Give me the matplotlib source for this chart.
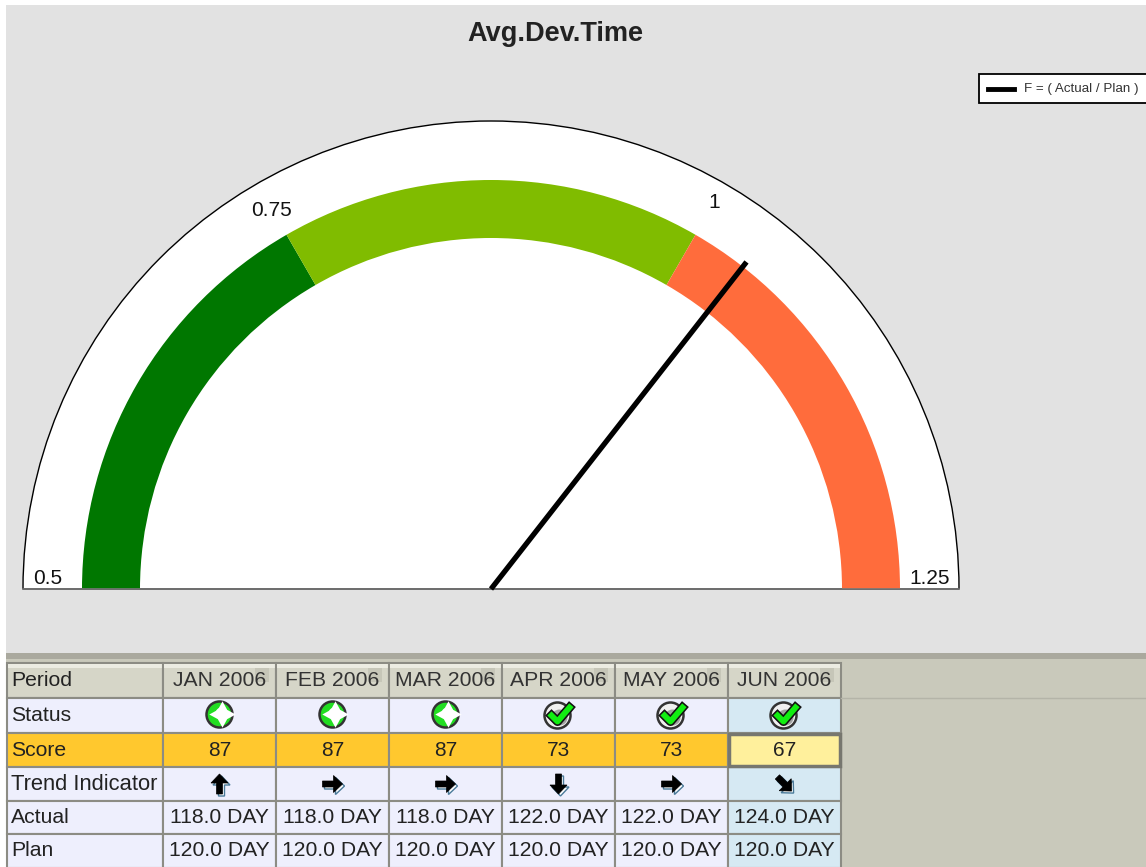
# -*- coding: utf-8 -*-
import numpy as np
import matplotlib
matplotlib.use('Agg')
import matplotlib.pyplot as plt
from matplotlib.patches import Wedge, Rectangle, Circle, FancyArrow

plt.rcParams['font.family'] = ['Liberation Sans', 'DejaVu Sans']

# gauge
title = 'Avg.Dev.Time'
bounds = [0.5, 0.75, 1.0, 1.25]
band_colors = ['#007700', '#80bc00', '#ff6c3c']
legend_text = 'F = ( Actual / Plan )'

# table
periods = ['JAN 2006', 'FEB 2006', 'MAR 2006', 'APR 2006', 'MAY 2006', 'JUN 2006']
status = ['star', 'star', 'star', 'check', 'check', 'check']
score = [87, 87, 87, 73, 73, 67]
trend = [90, 0, 0, -90, 0, -45]
actual = [118.0, 118.0, 118.0, 122.0, 122.0, 124.0]
plan = [120.0, 120.0, 120.0, 120.0, 120.0, 120.0]
row_names = ['Period', 'Status', 'Score', 'Trend Indicator', 'Actual', 'Plan']

col_x = [7, 163, 276, 389, 502, 615, 728, 841]
row_y = [663, 698, 733, 767, 801, 834, 868]
cx, cy = 491, 589
grid_c = '#8c8c84'

fig = plt.figure(figsize=(11.46, 8.67), dpi=100, facecolor='white')
ax = fig.add_axes([0, 0, 1, 1])
ax.set_xlim(0, 1146)
ax.set_ylim(867, 0)
ax.axis('off')


def angle(v):
    # 0.5 is far left, 1.25 is far right
    return 180 - (v - bounds[0]) / (bounds[-1] - bounds[0]) * 180


# backgrounds
ax.add_patch(Rectangle((6, 5), 1140, 648, fc='#e2e2e2', ec='none'))
ax.add_patch(Rectangle((6, 653), 1140, 6, fc='#aaa99e', ec='none'))
ax.add_patch(Rectangle((6, 659), 1140, 208, fc='#c9c9bb', ec='none'))
ax.plot([841, 1146], [698, 698], color='#b4b4a8', lw=1)

# gauge dial
ax.add_patch(Wedge((cx, cy), 468, -180, 0, fc='white', ec='black', lw=1))
ax.plot([cx - 468, cx + 468], [cy, cy], color='#777777', lw=1.2)
for i in range(3):
    ax.add_patch(Wedge((cx, cy), 409, -angle(bounds[i]), -angle(bounds[i + 1]),
                       width=58, fc=band_colors[i], ec='none'))

labels = ['0.5', '0.75', '1', '1.25']
lab_pos = [(48, 577), (272, 209), (714, 202), (930, 577)]
for s, p in zip(labels, lab_pos):
    ax.text(p[0], p[1] + 1, s, fontsize=15, ha='center', va='center', color='#111111')

# needle
value = actual[-1] / plan[-1]
a = np.radians(angle(value))
ax.plot([cx, cx + 415 * np.cos(a)], [cy, cy - 415 * np.sin(a)],
        color='black', lw=3.8, solid_capstyle='butt')

ax.text(555, 34, title, fontsize=19.5, fontweight='bold', ha='center', va='center', color='#222222')

# legend
ax.add_patch(Rectangle((979, 74), 170, 29, fc='white', ec='black', lw=1.3))
ax.plot([988, 1014], [89, 89], color='black', lw=3.5)
ax.text(1024, 89, legend_text, fontsize=9.6, ha='left', va='center', color='#333333')


def fill_cell(c, r, color):
    ax.add_patch(Rectangle((col_x[c], row_y[r]), col_x[c + 1] - col_x[c], row_y[r + 1] - row_y[r],
                           fc=color, ec=grid_c, lw=1.5))


def status_icon(x, y, kind):
    if kind == 'star':
        ax.add_patch(Circle((x, y), 13, fc='#22dd22', ec='#333333', lw=1.8))
        ax.plot([x + 2], [y - 1], marker=(4, 1, 0), ms=19, mfc='white', mec='none')
        ax.add_patch(Circle((x + 2, y - 1), 6, fc='white', ec='none'))
    else:
        ax.add_patch(Circle((x - 1, y + 1), 13, fc='#f0f0f0', ec='#333333', lw=1.8))
        ax.add_patch(Circle((x + 1, y + 3), 8, fc='#a0a0a0', ec='none'))
        ax.plot([x - 7, x - 1, x + 11], [y + 1, y + 7, y - 7], color='#111111', lw=6.5)
        ax.plot([x - 7, x - 1, x + 11], [y + 1, y + 7, y - 7], color='#11ee11', lw=4.2)


def trend_icon(x, y, deg):
    t = np.radians(deg)
    dx, dy = 10 * np.cos(t), -10 * np.sin(t)
    ax.add_patch(FancyArrow(x - dx + 2, y - dy + 2, 2 * dx, 2 * dy, width=6, head_width=17, head_length=9,
                            length_includes_head=True, fc='white', ec='#4a7a99', lw=1))
    ax.add_patch(FancyArrow(x - dx, y - dy, 2 * dx, 2 * dy, width=6, head_width=17, head_length=9,
                            length_includes_head=True, fc='black', ec='black', lw=0.5))


# table cells
for r, name in enumerate(row_names):
    base = '#eeeffd'
    if r == 0:
        base = '#d6d6c8'
    if r == 2:
        base = '#ffc82e'
    fill_cell(0, r, base)
    if r == 0:
        ax.add_patch(Rectangle((col_x[0] + 1, row_y[0] + 1), col_x[1] - col_x[0] - 2, 4, fc='#ecece2', ec='none'))
    fs = 15.8 if r == 3 else 15.2
    ax.text(col_x[0] + 4, (row_y[r] + row_y[r + 1]) / 2, name, fontsize=fs, ha='left', va='center',
            color='#222222')

for i in range(len(periods)):
    c = i + 1
    mid = (col_x[c] + col_x[c + 1]) / 2
    body = '#d6e9f3' if i == 5 else '#eeeffd'
    ym = [(row_y[r] + row_y[r + 1]) / 2 for r in range(6)]

    fill_cell(c, 0, '#d6d6c8')
    ax.add_patch(Rectangle((col_x[c] + 1, row_y[0] + 1), col_x[c + 1] - col_x[c] - 2, 4, fc='#ecece2', ec='none'))
    ax.add_patch(Rectangle((col_x[c + 1] - 21, row_y[0] + 5), 14, 14, fc='#c6c6b8', ec='none'))
    ax.text(mid, ym[0], periods[i], fontsize=15.2, ha='center', va='center', color='#333333')

    fill_cell(c, 1, body)
    status_icon(mid, ym[1] - 1, status[i])

    fill_cell(c, 2, '#fff09c' if i == 5 else '#ffc82e')
    ax.text(mid, ym[2], str(score[i]), fontsize=15, ha='center', va='center', color='#222222')

    fill_cell(c, 3, body)
    trend_icon(mid, ym[3], trend[i])

    fill_cell(c, 4, body)
    ax.text(mid, ym[4], '%.1f DAY' % actual[i], fontsize=15.2, ha='center', va='center', color='#222222')

    fill_cell(c, 5, body)
    ax.text(mid, ym[5], '%.1f DAY' % plan[i], fontsize=15.2, ha='center', va='center', color='#222222')

# thick border round the selected score cell
ax.add_patch(Rectangle((col_x[6] + 1, row_y[2] + 1), col_x[7] - col_x[6] - 2, row_y[3] - row_y[2] - 2,
                       fc='none', ec='#77776f', lw=2.5))

fig.savefig('out.png', dpi=100)
